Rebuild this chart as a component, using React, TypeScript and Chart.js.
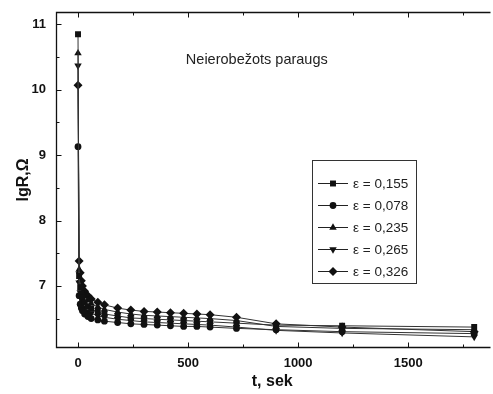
import React, { useEffect, useRef } from 'react';
import { Chart, registerables } from 'chart.js';
Chart.register(...registerables);

// ---- data ----
const times = [0, 5, 10, 15, 20, 30, 45, 60, 90, 120, 180, 240, 300, 360, 420, 480, 540, 600, 720, 900, 1200, 1800];
const eps0155 = [10.85, 7.15, 6.98, 6.88, 6.82, 6.75, 6.69, 6.65, 6.60, 6.57, 6.54, 6.51, 6.50, 6.49, 6.48, 6.47, 6.46, 6.45, 6.43, 6.40, 6.39, 6.37];
const eps0078 = [9.13, 6.85, 6.72, 6.66, 6.62, 6.57, 6.53, 6.50, 6.48, 6.46, 6.44, 6.42, 6.41, 6.40, 6.39, 6.38, 6.38, 6.37, 6.35, 6.33, 6.30, 6.27];
const eps0235 = [10.56, 7.25, 7.08, 6.98, 6.91, 6.84, 6.78, 6.73, 6.68, 6.64, 6.60, 6.57, 6.55, 6.54, 6.53, 6.52, 6.51, 6.50, 6.47, 6.38, 6.35, 6.33];
const eps0265 = [10.37, 7.05, 6.90, 6.80, 6.73, 6.67, 6.61, 6.58, 6.54, 6.52, 6.49, 6.47, 6.45, 6.44, 6.43, 6.42, 6.41, 6.40, 6.37, 6.32, 6.28, 6.22];
const eps0326 = [10.07, 7.38, 7.20, 7.08, 7.00, 6.92, 6.85, 6.80, 6.75, 6.71, 6.66, 6.63, 6.61, 6.60, 6.59, 6.58, 6.57, 6.56, 6.52, 6.42, 6.37, 6.30];
const seriesLabels = ['ε = 0,155', 'ε = 0,078', 'ε = 0,235', 'ε = 0,265', 'ε = 0,326'];
const xMajorTicks = [0, 500, 1000, 1500];
const xMinorTicks = [250, 750, 1250, 1750];
const yMajorTicks = [7, 8, 9, 10, 11];
const yMinorTicks = [6.5, 7.5, 8.5, 9.5, 10.5];
const annotationText = 'Neierobežots paraugs';
const xTitle = 't, sek';
const yTitle = 'lgR,Ω';

const FONT = "'Liberation Sans', Arial, sans-serif";

type Marker = { style: string; radius: number; rotation: number };
const markers: Marker[] = [
  { style: 'rect', radius: 4.2, rotation: 0 },
  { style: 'circle', radius: 3.4, rotation: 0 },
  { style: 'triangle', radius: 4.3, rotation: 0 },
  { style: 'triangle', radius: 4.3, rotation: 180 },
  { style: 'rectRot', radius: 4.5, rotation: 0 },
];

function drawMarker(ctx: CanvasRenderingContext2D, m: Marker, x: number, y: number) {
  const r = m.radius;
  ctx.beginPath();
  if (m.style === 'rect') {
    const s = r * Math.SQRT1_2;
    ctx.rect(x - s, y - s, 2 * s, 2 * s);
  } else if (m.style === 'circle') {
    ctx.arc(x, y, r, 0, Math.PI * 2);
  } else if (m.style === 'triangle') {
    let rad = (m.rotation * Math.PI) / 180;
    ctx.moveTo(x + Math.sin(rad) * r, y - Math.cos(rad) * r);
    rad += (2 * Math.PI) / 3;
    ctx.lineTo(x + Math.sin(rad) * r, y - Math.cos(rad) * r);
    rad += (2 * Math.PI) / 3;
    ctx.lineTo(x + Math.sin(rad) * r, y - Math.cos(rad) * r);
    ctx.closePath();
  } else {
    ctx.moveTo(x, y - r);
    ctx.lineTo(x + r, y);
    ctx.lineTo(x, y + r);
    ctx.lineTo(x - r, y);
    ctx.closePath();
  }
  ctx.fill();
}

const framePlugin = {
  id: 'frameTicks',
  afterDraw(chart: any) {
    const { ctx, chartArea: a, scales } = chart;
    const xs = scales.x;
    const ys = scales.y;
    ctx.save();
    ctx.strokeStyle = '#111';
    ctx.lineWidth = 1.3;
    const L = a.left + 0.5;
    const T = a.top + 0.5;
    const B = a.bottom - 0.5;
    ctx.beginPath();
    ctx.moveTo(a.right + 2, T);
    ctx.lineTo(L, T);
    ctx.lineTo(L, B);
    ctx.lineTo(a.right + 2, B);
    ctx.stroke();
    ctx.lineWidth = 1;
    ctx.beginPath();
    const xt = (v: number, len: number) => {
      const px = Math.round(xs.getPixelForValue(v)) + 0.5;
      ctx.moveTo(px, B);
      ctx.lineTo(px, B - len);
      ctx.moveTo(px, T);
      ctx.lineTo(px, T + len);
    };
    const yt = (v: number, len: number) => {
      const py = Math.round(ys.getPixelForValue(v)) + 0.5;
      ctx.moveTo(L, py);
      ctx.lineTo(L + len, py);
    };
    xMajorTicks.forEach((v) => xt(v, 5));
    xMinorTicks.forEach((v) => xt(v, 3));
    yMajorTicks.forEach((v) => yt(v, 5));
    yMinorTicks.forEach((v) => yt(v, 3));
    ctx.stroke();

    // annotation
    ctx.fillStyle = '#222';
    ctx.font = `14.5px ${FONT}`;
    ctx.textAlign = 'left';
    ctx.textBaseline = 'middle';
    ctx.fillText(annotationText, xs.getPixelForValue(490), ys.getPixelForValue(10.45));

    // legend
    const bx = 312, by = 160, bw = 104, bh = 123;
    ctx.strokeStyle = '#333';
    ctx.lineWidth = 1;
    ctx.strokeRect(bx + 0.5, by + 0.5, bw, bh);
    ctx.font = `13.5px ${FONT}`;
    chart.data.datasets.forEach((ds: any, i: number) => {
      const yy = by + 23 + i * 22;
      ctx.strokeStyle = '#222';
      ctx.beginPath();
      ctx.moveTo(bx + 6, yy + 0.5);
      ctx.lineTo(bx + 36, yy + 0.5);
      ctx.stroke();
      ctx.fillStyle = '#111';
      drawMarker(ctx, markers[i], bx + 21, yy + 0.5);
      ctx.fillStyle = '#222';
      ctx.textAlign = 'left';
      ctx.textBaseline = 'middle';
      ctx.fillText(ds.label, bx + 41, yy + 1);
    });
    ctx.restore();
  },
};

export default function App() {
  const ref = useRef<HTMLCanvasElement | null>(null);
  useEffect(() => {
    document.body.style.margin = '0';
    const seriesValues = [eps0155, eps0078, eps0235, eps0265, eps0326];
    const chart = new Chart(ref.current as HTMLCanvasElement, {
      type: 'scatter',
      data: {
        datasets: seriesValues.map((vals, i) => ({
          label: seriesLabels[i],
          data: times.map((t, j) => ({ x: t, y: vals[j] })),
          showLine: true,
          borderColor: '#333',
          borderWidth: 1,
          backgroundColor: '#111',
          pointBackgroundColor: '#111',
          pointBorderColor: '#111',
          pointBorderWidth: 0,
          pointStyle: markers[i].style as any,
          pointRadius: markers[i].radius,
          pointRotation: markers[i].rotation,
          pointHoverRadius: markers[i].radius,
        })),
      },
      options: {
        animation: false,
        responsive: false,
        events: [],
        layout: { padding: { top: 12, right: 0, left: 0, bottom: 0 } },
        plugins: { legend: { display: false }, tooltip: { enabled: false } },
        scales: {
          x: {
            type: 'linear',
            min: -100,
            max: 1865,
            grid: { display: false, drawTicks: false, tickLength: 0 },
            border: { display: false },
            afterBuildTicks: (s: any) => {
              s.ticks = xMajorTicks.map((v) => ({ value: v }));
            },
            afterFit: (s: any) => {
              s.height = 46;
              s.paddingLeft = 0;
              s.paddingRight = 0;
            },
            ticks: {
              color: '#111',
              font: { family: FONT, size: 13, weight: 'bold' },
              padding: 8,
              maxRotation: 0,
              autoSkip: false,
              callback: (v: any) => String(v),
            },
            title: {
              display: true,
              text: xTitle,
              color: '#111',
              font: { family: FONT, size: 16, weight: 'bold' },
              padding: { top: 0, bottom: 3 },
            },
          },
          y: {
            type: 'linear',
            min: 6.05,
            max: 11.19,
            grid: { display: false, drawTicks: false, tickLength: 0 },
            border: { display: false },
            afterBuildTicks: (s: any) => {
              s.ticks = yMajorTicks.map((v) => ({ value: v }));
            },
            afterFit: (s: any) => {
              s.width = 56;
              s.paddingTop = 0;
              s.paddingBottom = 0;
            },
            ticks: {
              color: '#111',
              font: { family: FONT, size: 13, weight: 'bold' },
              padding: 10,
              autoSkip: false,
              callback: (v: any) => String(v),
            },
            title: {
              display: true,
              text: yTitle,
              color: '#111',
              font: { family: FONT, size: 16, weight: 'bold' },
              padding: { top: 14, bottom: 0 },
            },
          },
        },
      } as any,
      plugins: [framePlugin],
    });
    return () => chart.destroy();
  }, []);
  return (
    <div style={{ width: 493, height: 394, background: '#fff' }}>
      <canvas ref={ref} width={493} height={394} style={{ display: 'block' }} />
    </div>
  );
}
